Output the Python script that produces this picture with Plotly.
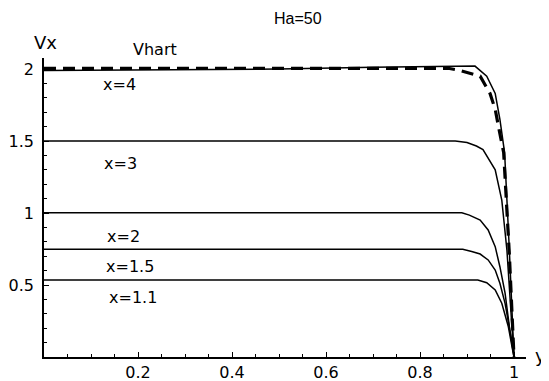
import plotly.graph_objects as go

# ---- data ----
y_x11 = [0.0, 0.5, 0.923, 0.942, 0.960, 0.974, 0.988, 0.997, 1.0]
v_x11 = [0.535, 0.535, 0.535, 0.516, 0.465, 0.373, 0.210, 0.05, 0.0]

y_x15 = [0.0, 0.5, 0.891, 0.910, 0.928, 0.945, 0.960, 0.970, 0.981, 0.991, 1.0]
v_x15 = [0.748, 0.748, 0.748, 0.733, 0.715, 0.674, 0.604, 0.512, 0.373, 0.188, 0.0]

y_x2 = [0.0, 0.5, 0.889, 0.905, 0.928, 0.945, 0.960, 0.970, 0.981, 0.991, 0.999, 1.0]
v_x2 = [1.002, 1.002, 1.002, 0.985, 0.951, 0.882, 0.766, 0.627, 0.444, 0.188, 0.05, 0.0]

y_x3 = [0.0, 0.5, 0.875, 0.900, 0.920, 0.934, 0.960, 0.974, 0.985, 0.995, 1.0]
v_x3 = [1.50, 1.50, 1.50, 1.49, 1.465, 1.44, 1.30, 1.09, 0.74, 0.24, 0.0]

y_x4 = [0.0, 0.3, 0.5, 0.7, 0.85, 0.917, 0.942, 0.960, 0.970, 0.980, 0.990, 1.0]
v_x4 = [1.99, 1.995, 2.0, 2.012, 2.018, 2.02, 1.95, 1.83, 1.65, 1.42, 0.75, 0.0]

y_hart = [0.0, 0.5, 0.860, 0.885, 0.928, 0.949, 0.960, 0.970, 0.978, 0.990, 1.0]
v_hart = [2.005, 2.005, 2.005, 1.99, 1.95, 1.83, 1.72, 1.55, 1.42, 0.72, 0.0]

x_tickvals = [0.2, 0.4, 0.6, 0.8, 1.0]
x_ticktext = ["0.2", "0.4", "0.6", "0.8", "1"]
y_tickvals = [0.5, 1.0, 1.5, 2.0]
y_ticktext = ["0.5", "1", "1.5", "2"]

# page body has an 8px margin, so the figure is drawn 8px in from the corner
OFF = 8
W, H = 549 - OFF, 381 - OFF
FONT = "DejaVu Sans"

fig = go.Figure()
solid = dict(color="black", width=1.5)
for yy, vv in [(y_x11, v_x11), (y_x15, v_x15), (y_x2, v_x2), (y_x3, v_x3), (y_x4, v_x4)]:
    fig.add_trace(go.Scatter(x=yy, y=vv, mode="lines", line=solid, showlegend=False,
                             hoverinfo="skip", cliponaxis=False))
fig.add_trace(go.Scatter(x=y_hart, y=v_hart, mode="lines",
                         line=dict(color="black", width=3.2, dash="12px,7px"),
                         showlegend=False, hoverinfo="skip", cliponaxis=False))

# geometry in window pixels (reference), converted to figure pixels
ox, oy = 44 - OFF, 357 - OFF          # origin
pxu_x, pxu_y = 470.0, 144.0           # pixels per unit
xl, xrgt = 32 - OFF, 526 - OFF        # x axis line extent
yt, yb = 58 - OFF, 363 - OFF          # y axis line extent

x_hi = (xrgt - ox) / pxu_x
y_hi = (oy - yt) / pxu_y
x_lo = -(ox - xl) / pxu_x
y_lo = -(yb - oy) / pxu_y

tick_common = dict(ticks="inside", ticklen=5, tickwidth=1, tickcolor="black")
fig.update_layout(
    width=W, height=H,
    margin=dict(l=0, r=0, t=0, b=0, autoexpand=False),
    paper_bgcolor="white", plot_bgcolor="rgba(0,0,0,0)",
    font=dict(family=FONT, size=16, color="black"),
    xaxis=dict(
        domain=[ox / W, xrgt / W], range=[0, x_hi], anchor="y", automargin=False,
        showline=True, linecolor="black", linewidth=1.5,
        showgrid=False, zeroline=False,
        tickmode="array", tickvals=x_tickvals, ticktext=x_ticktext, **tick_common,
        minor=dict(tickmode="linear", tick0=0, dtick=0.05, ticks="inside", ticklen=3,
                   tickwidth=1, tickcolor="black", showgrid=False),
        tickfont=dict(family=FONT, size=16), ticklabelstandoff=0,
    ),
    yaxis=dict(
        domain=[(H - oy) / H, (H - yt) / H], range=[0, y_hi], anchor="x", automargin=False,
        showline=True, linecolor="black", linewidth=1.5,
        showgrid=False, zeroline=False,
        tickmode="array", tickvals=y_tickvals, ticktext=y_ticktext, **tick_common,
        minor=dict(tickmode="linear", tick0=0, dtick=0.1, ticks="inside", ticklen=3,
                   tickwidth=1, tickcolor="black", showgrid=False),
        tickfont=dict(family=FONT, size=16), ticklabelstandoff=5,
    ),
    # extension axes: only draw the axis lines beyond the origin (crossing axes)
    xaxis2=dict(
        domain=[xl / W, xrgt / W], range=[x_lo, x_hi], anchor="y", automargin=False,
        showline=True, linecolor="black", linewidth=1.5, showgrid=False, zeroline=False,
        showticklabels=False, ticks="",
    ),
    yaxis2=dict(
        domain=[(H - yb) / H, (H - yt) / H], range=[y_lo, y_hi], anchor="x", automargin=False,
        showline=True, linecolor="black", linewidth=1.5, showgrid=False, zeroline=False,
        showticklabels=False, ticks="",
    ),
)

def label(text, px, py, size=16, family=FONT):
    fig.add_annotation(text=text, x=(px - OFF) / W, y=1 - (py - OFF) / H,
                       xref="paper", yref="paper", showarrow=False,
                       xanchor="center", yanchor="middle",
                       font=dict(family=family, size=size, color="black"))

label("Ha=50", 298, 18, 16, "Liberation Sans")
label("Vx", 45, 42, 18)
label("y", 540, 355, 18)
label("Vhart", 155, 50, 16)
label("x=4", 119, 84)
label("x=3", 120, 163)
label("x=2", 123, 236)
label("x=1.5", 130, 266)
label("x=1.1", 133, 297)

fig.write_html("out.html")
